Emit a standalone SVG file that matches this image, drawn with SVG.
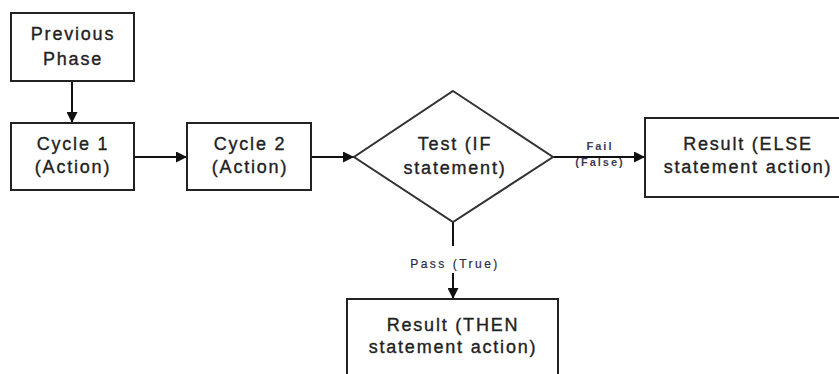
<svg xmlns="http://www.w3.org/2000/svg" width="839" height="374" viewBox="0 0 839 374">
<style>
.box{fill:#fff;stroke:#222;stroke-width:2}
.dia{fill:#fff;stroke:#333;stroke-width:2}
.t{font-family:"Liberation Sans",Arial,sans-serif;font-size:18px;letter-spacing:1.8px;fill:#222;stroke:#222;stroke-width:0.35;text-anchor:middle}
.s{font-family:"Liberation Sans",Arial,sans-serif;font-size:11px;font-weight:bold;letter-spacing:2px;fill:#3a3a55;text-anchor:middle}
.p{font-family:"Liberation Sans",Arial,sans-serif;font-size:12px;letter-spacing:2.5px;fill:#2a2a44;stroke:#2a2a44;stroke-width:0.2;text-anchor:middle}
.c{stroke:#111;stroke-width:2;fill:none}
</style>
<defs>
<marker id="ah" markerWidth="11" markerHeight="11" refX="11" refY="5.5" orient="auto" markerUnits="userSpaceOnUse">
<path d="M0,0 L11,5.5 L0,11 z" fill="#111"/>
</marker>
</defs>
<rect width="839" height="374" fill="#fff"/>
<g id="connectors">
<line class="c" x1="72" y1="81" x2="72" y2="123" marker-end="url(#ah)"/>
<line class="c" x1="134" y1="157" x2="187" y2="157" marker-end="url(#ah)"/>
<line class="c" x1="311" y1="157" x2="354" y2="157" marker-end="url(#ah)"/>
<line class="c" x1="553" y1="157" x2="645" y2="157" marker-end="url(#ah)"/>
<line class="c" x1="453" y1="222" x2="453" y2="246"/>
<line class="c" x1="453" y1="273" x2="453" y2="299" marker-end="url(#ah)"/>
<text class="s" x="600" y="150">Fail</text>
<text class="s" x="600" y="166">(False)</text>
<text class="p" x="455" y="268">Pass (True)</text>
</g>
<g id="previous-phase">
<rect class="box" x="11" y="13" width="123" height="68"/>
<text class="t" x="73" y="40">Previous</text>
<text class="t" x="73" y="65">Phase</text>
</g>
<g id="cycle1">
<rect class="box" x="11" y="123" width="123" height="67"/>
<text class="t" x="73" y="150">Cycle 1</text>
<text class="t" x="73" y="173">(Action)</text>
</g>
<g id="cycle2">
<rect class="box" x="187" y="123" width="124" height="67"/>
<text class="t" x="250" y="150">Cycle 2</text>
<text class="t" x="250" y="173">(Action)</text>
</g>
<g id="test">
<polygon class="dia" points="453,91 553,157 453,222 354,157"/>
<text class="t" x="455" y="150">Test (IF</text>
<text class="t" x="455" y="174">statement)</text>
</g>
<g id="else-result">
<rect class="box" x="645" y="118" width="210" height="79"/>
<text class="t" x="748" y="150">Result (ELSE</text>
<text class="t" x="748" y="173">statement action)</text>
</g>
<g id="then-result">
<rect class="box" x="347" y="299" width="211" height="90"/>
<text class="t" x="453" y="331">Result (THEN</text>
<text class="t" x="453" y="353">statement action)</text>
</g>
</svg>
